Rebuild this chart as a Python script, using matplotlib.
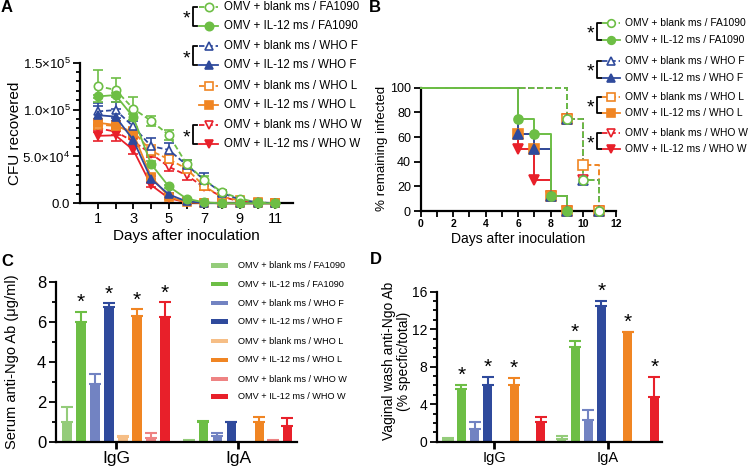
import matplotlib
matplotlib.use('Agg')
import matplotlib.pyplot as plt
from matplotlib.ticker import MultipleLocator, FixedLocator
from matplotlib.patches import Rectangle

plt.rcParams['font.family'] = ['Liberation Sans', 'DejaVu Sans']
plt.rcParams['mathtext.fontset'] = 'custom'
plt.rcParams['mathtext.rm'] = 'Liberation Sans'
plt.rcParams['mathtext.it'] = 'Liberation Sans:italic'

# ---------------- data ----------------
names = ['OMV + blank ms / FA1090', 'OMV + IL-12 ms / FA1090',
         'OMV + blank ms / WHO F', 'OMV + IL-12 ms / WHO F',
         'OMV + blank ms / WHO L', 'OMV + IL-12 ms / WHO L',
         'OMV + blank ms / WHO W', 'OMV + IL-12 ms / WHO W']

days = [1, 2, 3, 4, 5, 6, 7, 8, 9, 10, 11]
# Panel A: CFU recovered (x1e5)
cfu_blank_fa = [1.25, 1.21, 1.01, 0.88, 0.73, 0.42, 0.25, 0.12, 0.05, 0.01, 0.0]
cfu_il12_fa = [1.14, 1.155, 0.92, 0.42, 0.18, 0.05, 0.01, 0.0, 0.0, 0.0, 0.0]
cfu_blank_f = [0.98, 0.995, 0.82, 0.61, 0.57, 0.41, 0.25, 0.11, 0.04, 0.01, 0.0]
cfu_il12_f = [0.94, 0.925, 0.675, 0.26, 0.095, 0.02, 0.005, 0.0, 0.0, 0.0, 0.0]
cfu_blank_l = [0.84, 0.825, 0.765, 0.56, 0.47, 0.37, 0.18, 0.07, 0.03, 0.01, 0.0]
cfu_il12_l = [0.86, 0.835, 0.745, 0.285, 0.07, 0.01, 0.005, 0.0, 0.0, 0.0, 0.0]
cfu_blank_w = [0.80, 0.765, 0.66, 0.53, 0.39, 0.30, 0.17, 0.07, 0.02, 0.005, 0.0]
cfu_il12_w = [0.72, 0.725, 0.57, 0.195, 0.055, 0.01, 0.005, 0.0, 0.0, 0.0, 0.0]

err_blank_fa = [0.17, 0.13, 0.12, 0.055, 0.05, 0.04, 0.04, 0.02, 0.01, 0.005, 0.0]
err_il12_fa = [0.02, 0.02, 0.03, 0.03, 0.02, 0.01, 0.005, 0.0, 0.0, 0.0, 0.0]
err_blank_f = [0.09, 0.085, 0.06, 0.09, 0.07, 0.05, 0.07, 0.03, 0.02, 0.005, 0.0]
err_il12_f = [0.1, 0.08, 0.05, 0.03, 0.015, 0.01, 0.0, 0.0, 0.0, 0.0, 0.0]
err_blank_l = [0.05, 0.05, 0.05, 0.06, 0.05, 0.05, 0.04, 0.02, 0.01, 0.005, 0.0]
err_il12_l = [0.04, 0.04, 0.06, 0.03, 0.01, 0.005, 0.0, 0.0, 0.0, 0.0, 0.0]
err_blank_w = [0.04, 0.04, 0.04, 0.04, 0.05, 0.05, 0.03, 0.02, 0.01, 0.0, 0.0]
err_il12_w = [0.06, 0.06, 0.04, 0.02, 0.01, 0.005, 0.0, 0.0, 0.0, 0.0, 0.0]

cfu = [cfu_blank_fa, cfu_il12_fa, cfu_blank_f, cfu_il12_f,
       cfu_blank_l, cfu_il12_l, cfu_blank_w, cfu_il12_w]
cfu_err = [err_blank_fa, err_il12_fa, err_blank_f, err_il12_f,
           err_blank_l, err_il12_l, err_blank_w, err_il12_w]

# Panel B: % remaining infected (Kaplan-Meier steps)
surv_t_blank = [0, 9, 10, 11]
surv_t_il12 = [0, 6, 7, 8, 9]
surv_blank_fa = [100, 75, 25, 0]
surv_il12_fa = [100, 75, 62.5, 12.5, 0]
surv_blank_f = [100, 75, 25, 0]
surv_il12_f = [100, 62.5, 50, 12.5, 0]
surv_blank_l = [100, 75, 37.5, 0]
surv_il12_l = [100, 62.5, 50, 12.5, 0]
surv_blank_w = [100, 75, 25, 0]
surv_il12_w = [100, 50, 25, 12.5, 0]
surv = [surv_blank_fa, surv_il12_fa, surv_blank_f, surv_il12_f,
        surv_blank_l, surv_il12_l, surv_blank_w, surv_il12_w]

# Panel C: serum anti-Ngo Ab (ug/ml)
groups = ['IgG', 'IgA']
serum_igg = [1.0, 6.0, 2.88, 6.72, 0.22, 6.28, 0.2, 6.22]
serum_igg_err = [0.75, 0.5, 0.52, 0.2, 0.08, 0.34, 0.22, 0.75]
serum_iga = [0.06, 1.0, 0.28, 0.97, 0.0, 0.97, 0.06, 0.78]
serum_iga_err = [0.02, 0.03, 0.14, 0.02, 0.0, 0.25, 0.02, 0.39]
serum_sig_igg = [1, 3, 5, 7]
serum_sig_iga = []

# Panel D: vaginal wash anti-Ngo Ab (% specific/total)
vag_igg = [0.18, 5.62, 1.35, 6.05, 0.0, 6.05, 0.0, 2.13]
vag_igg_err = [0.17, 0.48, 0.71, 0.89, 0.0, 0.78, 0.0, 0.47]
vag_iga = [0.25, 10.1, 2.28, 14.5, 0.0, 11.7, 0.0, 4.8]
vag_iga_err = [0.35, 0.65, 1.1, 0.55, 0.0, 0.05, 0.0, 2.13]
vag_sig_igg = [1, 3, 5]
vag_sig_iga = [1, 3, 5, 7]

# ---------------- styles ----------------
GREEN, BLUE, ORANGE, RED = '#6DBE45', '#2F4A9C', '#F08523', '#E8202A'
LGREEN, LBLUE, LORANGE, LRED = '#94CC7A', '#7283C2', '#F6BE86', '#EE8383'
line_colors = [GREEN, GREEN, BLUE, BLUE, ORANGE, ORANGE, RED, RED]
bar_colors = [LGREEN, GREEN, LBLUE, BLUE, LORANGE, ORANGE, LRED, RED]
markers = ['o', 'o', '^', '^', 's', 's', 'v', 'v']
is_blank = [True, False] * 4

W, H = 750, 469


def rect(l, t, r, b):
    return [l / W, 1 - b / H, (r - l) / W, (b - t) / H]


def style_axes(ax, lw=1.6):
    for s in ['top', 'right']:
        ax.spines[s].set_visible(False)
    for s in ['left', 'bottom']:
        ax.spines[s].set_linewidth(lw)
    ax.tick_params(which='both', direction='out', width=1.3, color='black')
    ax.tick_params(which='major', length=5)
    ax.tick_params(which='minor', length=3)


fig = plt.figure(figsize=(7.5, 4.69), dpi=100)

# ---------------- Panel A ----------------
axA = fig.add_axes(rect(80, 62.7, 293, 203.3))
style_axes(axA)
draw_order = [6, 7, 4, 5, 2, 3, 0, 1]
for i in draw_order:
    c = line_colors[i]
    vals = [v * 1e5 for v in cfu[i]]
    errs = [e * 1e5 for e in cfu_err[i]]
    axA.errorbar(days, vals, yerr=errs, color=c, lw=1.3,
                 ls='--' if is_blank[i] else '-', dashes=(3, 1.6) if is_blank[i] else (None, None),
                 marker=markers[i], ms=6, mfc='white' if is_blank[i] else c, mec=c, mew=1.2,
                 capsize=3.5, elinewidth=1.2, capthick=1.2, clip_on=False, zorder=3)
axA.set_xlim(0, 12)
axA.set_ylim(0, 1.5e5)
axA.xaxis.set_major_locator(FixedLocator([1, 3, 5, 7, 9, 11]))
axA.xaxis.set_minor_locator(FixedLocator([2, 4, 6, 8, 10]))
axA.tick_params(axis='x', which='both', length=4, pad=2)
axA.yaxis.set_major_locator(FixedLocator([0, 5e4, 1e5, 1.5e5]))
axA.yaxis.set_minor_locator(MultipleLocator(1e4))
axA.tick_params(axis='y', pad=2)
axA.set_yticklabels(['0.0', '5.0×10$^4$', '1.0×10$^5$', '1.5×10$^5$'], fontsize=9.5)
axA.set_xticklabels(['1', '3', '5', '7', '9', '11'], fontsize=10.5)

# ---------------- Panel B ----------------
axB = fig.add_axes(rect(420.7, 87.7, 615.7, 211))
style_axes(axB)
for i in draw_order:
    c = line_colors[i]
    t = surv_t_blank if is_blank[i] else surv_t_il12
    s = surv[i]
    ls = '--' if is_blank[i] else '-'
    ln, = axB.step(t, s, where='post', color=c, lw=1.4, ls=ls, clip_on=False, zorder=3)
    if is_blank[i]:
        ln.set_dashes((3, 1.6))
    axB.plot(t[1:], s[1:], ls='none', marker=markers[i], ms=6.5,
             mfc='white' if is_blank[i] else c, mec=c, mew=1.2, clip_on=False, zorder=4)
axB.set_xlim(0, 12)
axB.set_ylim(0, 100)
axB.xaxis.set_major_locator(MultipleLocator(2))
axB.xaxis.set_minor_locator(MultipleLocator(1))
axB.yaxis.set_major_locator(MultipleLocator(20))
axB.tick_params(axis='x', which='both', length=4, pad=1.5, labelsize=7.5)
axB.tick_params(axis='y', labelsize=9, pad=2)
for lab in axB.get_xticklabels():
    lab.set_fontweight('bold')

# ---------------- Panels C, D ----------------
nb = 8


def bar_panel(ax, igg, igg_err, iga, iga_err, slot, bw, sig_igg, sig_iga, star_off):
    for k, (vals, errs, sig) in enumerate([(igg, igg_err, sig_igg), (iga, iga_err, sig_iga)]):
        for i in range(nb):
            x = k + (i - 3.5) * slot
            ax.bar(x, vals[i], width=bw, color=bar_colors[i], zorder=2)
            if errs[i] > 0:
                ax.errorbar(x, vals[i], yerr=[[0], [errs[i]]], color=bar_colors[i],
                            capsize=4, elinewidth=1.5, capthick=1.5, zorder=2)
            if i in sig:
                ax.text(x, vals[i] + errs[i] + star_off, '*', ha='center', va='center',
                        fontsize=15, zorder=3)


axC = fig.add_axes(rect(56, 281.7, 296.7, 441.7))
style_axes(axC)
bar_panel(axC, serum_igg, serum_igg_err, serum_iga, serum_iga_err,
          14 / 122.3, 9.5 / 122.3, serum_sig_igg, serum_sig_iga, 0.45)
axC.set_xlim(-0.49, 1.477)
axC.set_ylim(0, 8)
axC.set_xticks([0, 1])
axC.set_xticklabels(groups, fontsize=12.5)
axC.tick_params(axis='x', length=5, width=2, pad=1.5)
axC.yaxis.set_major_locator(MultipleLocator(2))
axC.yaxis.set_minor_locator(MultipleLocator(1))
axC.tick_params(axis='y', labelsize=12, pad=2)

axD = fig.add_axes(rect(437, 291.7, 661.7, 441.7))
style_axes(axD)
bar_panel(axD, vag_igg, vag_igg_err, vag_iga, vag_iga_err,
          13.2 / 113.7, 9 / 113.7, vag_sig_igg, vag_sig_iga, 0.95)
axD.set_xlim(-0.504, 1.472)
axD.set_ylim(0, 16)
axD.set_xticks([0, 1])
axD.set_xticklabels(groups, fontsize=10.5)
axD.tick_params(axis='x', length=5, width=2, pad=1.5)
axD.yaxis.set_major_locator(MultipleLocator(4))
axD.yaxis.set_minor_locator(MultipleLocator(1))
axD.tick_params(axis='y', labelsize=10, pad=2)

# ---------------- overlay: labels & legends ----------------
ov = fig.add_axes([0, 0, 1, 1], zorder=10)
ov.set_xlim(0, W)
ov.set_ylim(H, 0)
ov.axis('off')
ov.patch.set_alpha(0)

for lab, x, y in [('A', 1, 8), ('B', 369, 8), ('C', 1, 261), ('D', 370, 259)]:
    ov.text(x, y, lab, fontsize=12, fontweight='bold', ha='left', va='center')

ov.text(15, 133.5, 'CFU recovered', rotation=90, ha='center', va='center', fontsize=11)
ov.text(186.5, 236, 'Days after inoculation', ha='center', va='center', fontsize=11)
ov.text(382, 148, '% remaining infected', rotation=90, ha='center', va='center', fontsize=9.6)
ov.text(518, 239, 'Days after inoculation', ha='center', va='center', fontsize=10)
ov.text(12, 362, 'Serum anti-Ngo Ab (μg/ml)', rotation=90, ha='center', va='center', fontsize=10.5)
ov.text(396.5, 361, 'Vaginal wash anti-Ngo Ab\n(% specfic/total)', rotation=90, ha='center',
        va='center', multialignment='center', fontsize=10, linespacing=1.15)


def line_legend(rows, x0, x1, xt, fs, ms, brackets, bx, sx):
    for i, y in enumerate(rows):
        c = line_colors[i]
        ln, = ov.plot([x0, x1], [y, y], color=c, lw=1.3, ls='--' if is_blank[i] else '-')
        if is_blank[i]:
            ln.set_dashes((3, 1.6))
        ov.plot((x0 + x1) / 2, y, marker=markers[i], ms=ms, mfc='white' if is_blank[i] else c,
                mec=c, mew=1.2)
        ov.text(xt, y, names[i], va='center', ha='left', fontsize=fs)
    for p in brackets:
        y0, y1 = rows[2 * p], rows[2 * p + 1]
        ov.plot([bx + 4, bx, bx, bx + 4], [y0, y0, y1, y1], color='black', lw=1.3)
        ov.text(sx, (y0 + y1) / 2 + 3, '*', ha='center', va='center', fontsize=14)


line_legend([6.7, 25.7, 46, 65.5, 86, 105, 125, 144], 199, 218, 224, 8.3, 6,
            [0, 1, 3], 193, 186)
line_legend([22.7, 40, 61, 77.7, 96.7, 113.3, 132.7, 149.3], 601.7, 620, 625, 7.4, 5.5,
            [0, 1, 2, 3], 596.7, 590)

rowsC = [265.7, 284.3, 303.3, 321.7, 341, 360, 379, 396.7]
for i, y in enumerate(rowsC):
    ov.add_patch(Rectangle((210.7, y - 2.2), 17.6, 4.4, color=bar_colors[i], lw=0))
    ov.text(237.7, y, names[i], va='center', ha='left', fontsize=6.6)

fig.savefig('out.png', dpi=100)
